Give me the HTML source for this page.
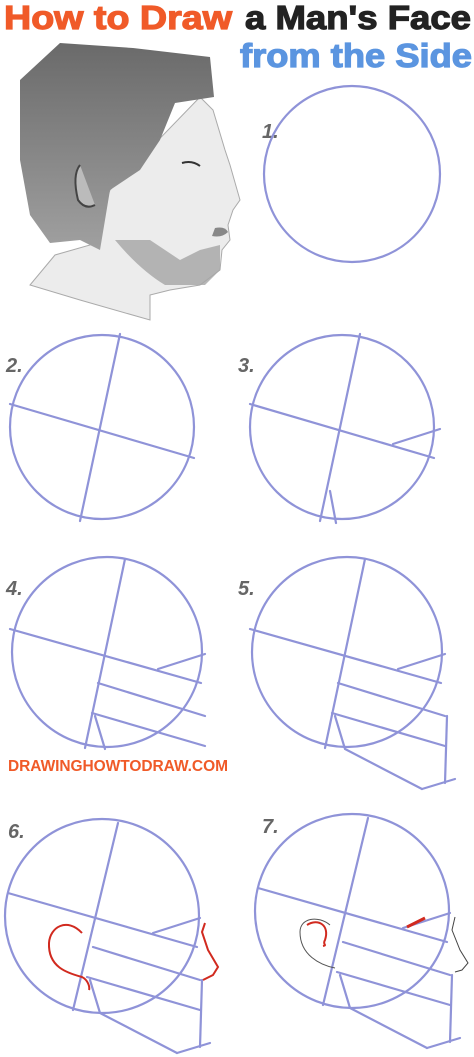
<!DOCTYPE html>
<html><head><meta charset="utf-8"><style>
html,body{margin:0;padding:0;background:#fff;width:474px;height:1057px;overflow:hidden}
svg{display:block}
.t{font-family:"Liberation Sans",sans-serif;font-weight:900}
.g line,.g path,.g circle{fill:none;stroke:#8f93d8;stroke-width:2.2;stroke-linecap:round}
.num{font-family:"Liberation Sans",sans-serif;font-style:italic;font-size:20px;fill:#666;font-weight:bold}
</style></head><body>
<svg width="474" height="1057" viewBox="0 0 474 1057">
<text class="t" x="4" y="29" font-size="33" fill="#f05a28" stroke="#f05a28" stroke-width="1.2" textLength="228" lengthAdjust="spacingAndGlyphs">How to Draw</text>
<text class="t" x="245" y="29" font-size="33" fill="#222" stroke="#222" stroke-width="1.2" textLength="226" lengthAdjust="spacingAndGlyphs">a Man's Face</text>
<text class="t" x="240" y="67" font-size="33" fill="#5b95e0" stroke="#5b95e0" stroke-width="1.2" textLength="232" lengthAdjust="spacingAndGlyphs">from the Side</text>

<g>
<defs><linearGradient id="hg" x1="0" y1="0" x2="0" y2="1"><stop offset="0" stop-color="#6a6a6a"/><stop offset="1" stop-color="#a0a0a0"/></linearGradient></defs>
<path d="M110 190 L200 97 L213 110 L225 150 L230 165 L240 200 L233 210 L228 225 L230 240 L222 250 L220 270 L200 285 L170 290 L150 295 L150 320 L80 300 L30 285 L55 255 L90 245 Z" fill="#ececec" stroke="#aaa"/>
<path d="M115 240 Q140 270 165 285 L205 285 L220 270 L220 245 L200 250 L180 260 L150 240 Z" fill="#a5a5a5" opacity="0.8"/>
<path d="M20 80 L60 43 L133 48 L210 57 L214 97 L175 103 L160 140 L140 170 L110 190 L100 250 L80 240 L50 243 L30 215 L20 160 Z" fill="url(#hg)"/>
<path d="M80 165 Q72 175 78 200 Q85 210 95 205" fill="#bbb" stroke="#444" stroke-width="2"/>
<path d="M215 228 Q225 226 228 232 Q222 238 212 236" fill="#888"/>
<path d="M182 163 Q192 160 200 166" stroke="#333" stroke-width="2" fill="none"/>
</g>

<text class="num" x="262" y="138">1.</text>
<g class="g"><circle cx="352" cy="174" r="88"/></g>

<text class="num" x="6" y="372">2.</text>
<g class="g" transform="translate(0,-489)">
<circle cx="102" cy="916" r="92"/><line x1="120" y1="823" x2="80" y2="1010"/><line x1="10" y1="893" x2="194" y2="947"/></g>

<text class="num" x="238" y="372">3.</text>
<g class="g" transform="translate(240,-489)">
<circle cx="102" cy="916" r="92"/><line x1="120" y1="823" x2="80" y2="1010"/><line x1="10" y1="893" x2="194" y2="947"/>
<line x1="153" y1="933" x2="200" y2="918"/><line x1="90" y1="980" x2="96" y2="1012"/></g>

<text class="num" x="6" y="595">4.</text>
<g class="g" transform="translate(5,-264)">
<circle cx="102" cy="916" r="95"/><line x1="120" y1="823" x2="80" y2="1012"/><line x1="5" y1="893" x2="196" y2="947"/>
<line x1="153" y1="933" x2="200" y2="918"/><line x1="93" y1="947" x2="200" y2="980"/><line x1="87" y1="977" x2="200" y2="1010"/>
<path d="M90 980 L100 1013"/></g>

<text class="num" x="238" y="595">5.</text>
<g class="g" transform="translate(245,-264)">
<circle cx="102" cy="916" r="95"/><line x1="120" y1="823" x2="80" y2="1012"/><line x1="5" y1="893" x2="196" y2="947"/>
<line x1="153" y1="933" x2="200" y2="918"/><line x1="93" y1="947" x2="200" y2="980"/><line x1="87" y1="977" x2="200" y2="1010"/>
<path d="M90 980 L100 1013 L177 1053"/><line x1="202" y1="980" x2="200" y2="1047"/><line x1="177" y1="1053" x2="210" y2="1043"/></g>

<text class="t" x="8" y="771" font-size="15.5" fill="#f05a28" textLength="220">DRAWINGHOWTODRAW.COM</text>

<text class="num" x="8" y="838">6.</text>
<g class="g">
<circle cx="102" cy="916" r="97"/><line x1="118" y1="823" x2="73" y2="1010"/><line x1="8" y1="893" x2="197" y2="947"/>
<line x1="153" y1="933" x2="200" y2="918"/><line x1="93" y1="947" x2="200" y2="980"/><line x1="87" y1="977" x2="200" y2="1010"/>
<path d="M90 980 L100 1013 L177 1053"/><line x1="202" y1="980" x2="200" y2="1047"/><line x1="177" y1="1053" x2="210" y2="1043"/></g>
<path d="M82 933 C67 917 50 927 49 943 C48 967 67 973 82 977 C88 980 90 987 89 990" fill="none" stroke="#d12a1f" stroke-width="2"/>
<path d="M205 923 L202 932 L208 950 L218 967 L213 975 L203 980" fill="none" stroke="#d12a1f" stroke-width="2"/>

<text class="num" x="262" y="833">7.</text>
<g class="g" transform="translate(250,-5)">
<circle cx="102" cy="916" r="97"/><line x1="118" y1="823" x2="73" y2="1010"/><line x1="8" y1="893" x2="197" y2="947"/>
<line x1="153" y1="933" x2="200" y2="918"/><line x1="93" y1="947" x2="200" y2="980"/><line x1="87" y1="977" x2="200" y2="1010"/>
<path d="M90 980 L100 1013 L177 1053"/><line x1="202" y1="980" x2="200" y2="1047"/><line x1="177" y1="1053" x2="210" y2="1043"/></g>
<path d="M330 925 C318 915 300 918 300 932 C300 955 320 965 335 968" fill="none" stroke="#555" stroke-width="1"/>
<path d="M307 925 C318 918 330 925 325 940 C322 945 328 945 323 946" fill="none" stroke="#d12a1f" stroke-width="2"/>
<path d="M407 927 L425 918" fill="none" stroke="#d12a1f" stroke-width="3"/>
<path d="M455 917 L452 930 L460 950 L468 963 L462 970 L455 972" fill="none" stroke="#444" stroke-width="1"/>
</svg>
</body></html>
